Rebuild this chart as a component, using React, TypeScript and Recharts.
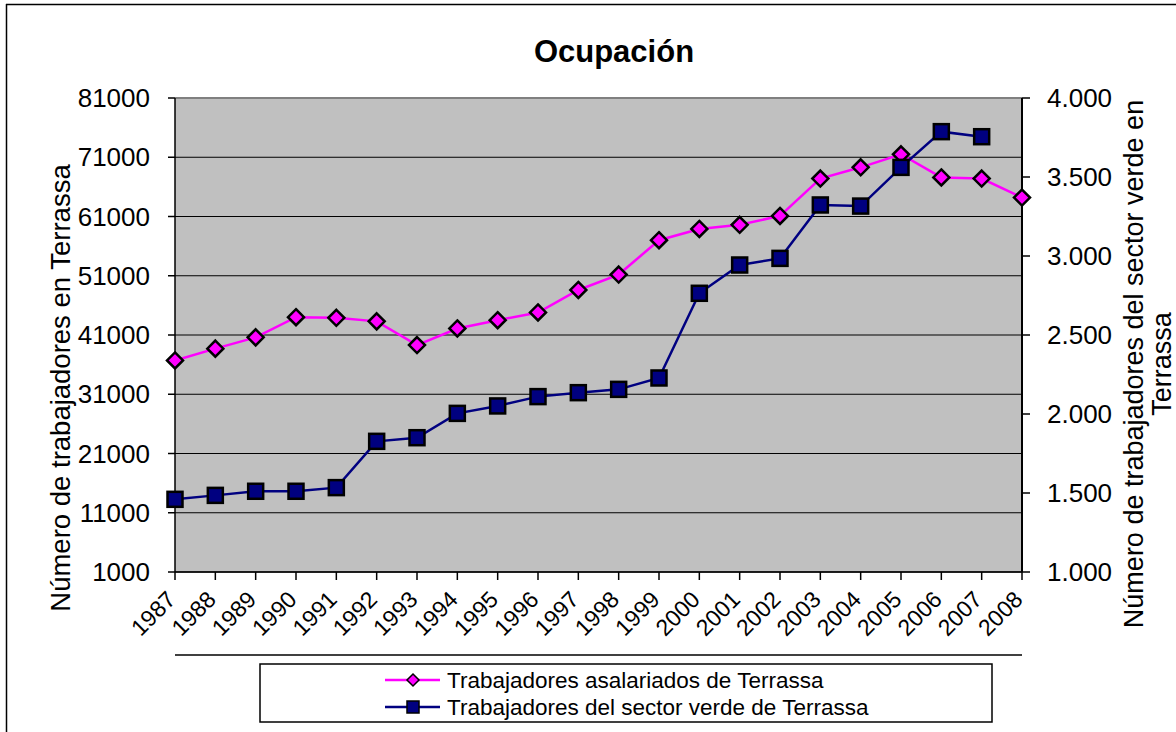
import React from 'react';
import { LineChart, Line, XAxis, YAxis, CartesianGrid, ReferenceLine } from 'recharts';

const FONT = '"Liberation Sans", Arial, sans-serif';

const years = ['1987', '1988', '1989', '1990', '1991', '1992', '1993', '1994', '1995', '1996', '1997',
  '1998', '1999', '2000', '2001', '2002', '2003', '2004', '2005', '2006', '2007', '2008'];

// Trabajadores asalariados de Terrassa (eje izquierdo)
const asalariados = [36700, 38700, 40600, 44000, 43900, 43300, 39300, 42100, 43500, 44800, 48600,
  51200, 57000, 58900, 59600, 61100, 67400, 69300, 71500, 67600, 67400, 64200];

// Trabajadores del sector verde de Terrassa (eje derecho)
const sectorVerde = [1460, 1485, 1511, 1511, 1534, 1827, 1850, 2004, 2051, 2110, 2135,
  2156, 2228, 2764, 2943, 2985, 3323, 3316, 3561, 3787, 3755, null];

const leftTicks = [1000, 11000, 21000, 31000, 41000, 51000, 61000, 71000, 81000];
const rightTicks = [1000, 1500, 2000, 2500, 3000, 3500, 4000];

const data = years.map((year, i) => ({
  year,
  asalariados: asalariados[i],
  verde: sectorVerde[i],
}));

const fmtMiles = (v: number) => {
  const s = String(v);
  return s.length > 3 ? s.slice(0, s.length - 3) + '.' + s.slice(-3) : s;
};

const Diamond = (props: any) => {
  const { cx, cy, index } = props;
  if (cx == null || cy == null) return <g key={index} />;
  const r = 8;
  return (
    <path
      key={index}
      d={`M${cx},${cy - r}L${cx + r},${cy}L${cx},${cy + r}L${cx - r},${cy}Z`}
      fill="#FF00FF"
      stroke="#000"
      strokeWidth={2.5}
    />
  );
};

const Square = (props: any) => {
  const { cx, cy, index, payload } = props;
  if (cx == null || cy == null || payload?.verde == null) return <g key={index} />;
  const s = 7.5;
  return <rect key={index} x={cx - s} y={cy - s} width={s * 2} height={s * 2} fill="#000080" stroke="#000" strokeWidth={2.5} />;
};

const XTick = (props: any) => {
  const { x, y, payload } = props;
  return (
    <g transform={`translate(${x + 2},${y + 19})`}>
      <text textAnchor="end" transform="rotate(-45)" fontSize={23} fontFamily={FONT} fill="#000">
        {payload.value}
      </text>
    </g>
  );
};

export default function App() {
  return (
    <div style={{ position: 'absolute', left: 0, top: 0, width: 1176, height: 732, background: '#fff' }}>
      <LineChart
        width={1176}
        height={732}
        data={data}
        margin={{ top: 98, right: 54, bottom: 80, left: 75 }}
      >
        <CartesianGrid vertical={false} stroke="#000" strokeWidth={1} fill="#C0C0C0" fillOpacity={1} />
        <XAxis
          dataKey="year"
          interval={0}
          height={80}
          tickSize={8}
          tickMargin={2}
          tick={<XTick />}
          axisLine={{ stroke: '#000', strokeWidth: 1.5 }}
          tickLine={{ stroke: '#000', strokeWidth: 1.5 }}
        />
        <YAxis
          domain={[1000, 81000]}
          ticks={leftTicks}
          interval={0}
          width={100}
          tickSize={7}
          tickMargin={18}
          tick={{ fill: '#000', fontSize: 26, fontFamily: FONT }}
          axisLine={{ stroke: '#000', strokeWidth: 1.5 }}
          tickLine={{ stroke: '#000', strokeWidth: 1.5 }}
        />
        <YAxis
          yAxisId="right"
          orientation="right"
          domain={[1000, 4000]}
          ticks={rightTicks}
          interval={0}
          width={100}
          tickSize={8}
          tickMargin={17}
          tickFormatter={fmtMiles}
          tick={{ fill: '#000', fontSize: 26, fontFamily: FONT }}
          axisLine={{ stroke: '#000', strokeWidth: 2 }}
          tickLine={{ stroke: '#000', strokeWidth: 1.5 }}
        />
        <ReferenceLine y={81000} stroke="#808080" strokeWidth={2} />
        <Line
          dataKey="asalariados"
          stroke="#FF00FF"
          strokeWidth={2.5}
          dot={<Diamond />}
          isAnimationActive={false}
        />
        <Line
          yAxisId="right"
          dataKey="verde"
          stroke="#000080"
          strokeWidth={2.5}
          dot={<Square />}
          connectNulls={false}
          isAnimationActive={false}
        />
      </LineChart>
      <svg
        width={1176}
        height={732}
        style={{ position: 'absolute', left: 0, top: 0, pointerEvents: 'none' }}
        fontFamily={FONT}
      >
        <line x1={6} y1={4.5} x2={1176} y2={4.5} stroke="#000" strokeWidth={1.5} />
        <line x1={6.5} y1={4} x2={6.5} y2={732} stroke="#000" strokeWidth={1.5} />
        <text x={614} y={62} textAnchor="middle" fontSize={31} fontWeight="bold" fill="#000">Ocupación</text>
        <text transform="translate(70,388) rotate(-90)" textAnchor="middle" fontSize={27.5} fill="#000">
          Número de trabajadores  en Terrassa
        </text>
        <text transform="translate(1143,364) rotate(-90)" textAnchor="middle" fontSize={27} fill="#000">
          Número de trabajadores del sector verde en
        </text>
        <text transform="translate(1171,364) rotate(-90)" textAnchor="middle" fontSize={27} fill="#000">
          Terrassa
        </text>
        <line x1={175} y1={655} x2={1022} y2={655} stroke="#000" strokeWidth={1.5} />
        <rect x={260} y={664} width={732} height={58} fill="#fff" stroke="#000" strokeWidth={1.5} />
        <line x1={385} y1={680} x2={440} y2={680} stroke="#FF00FF" strokeWidth={2.5} />
        <path d="M413,674L419,680L413,686L407,680Z" fill="#FF00FF" stroke="#000" strokeWidth={1.5} />
        <text x={447} y={688} fontSize={22.5} fill="#000">Trabajadores asalariados de Terrassa</text>
        <line x1={385} y1={707} x2={440} y2={707} stroke="#000080" strokeWidth={2.5} />
        <rect x={407} y={701} width={12} height={12} fill="#000080" stroke="#000" strokeWidth={1.5} />
        <text x={447} y={715} fontSize={22.5} fill="#000">Trabajadores del sector verde de Terrassa</text>
      </svg>
    </div>
  );
}
